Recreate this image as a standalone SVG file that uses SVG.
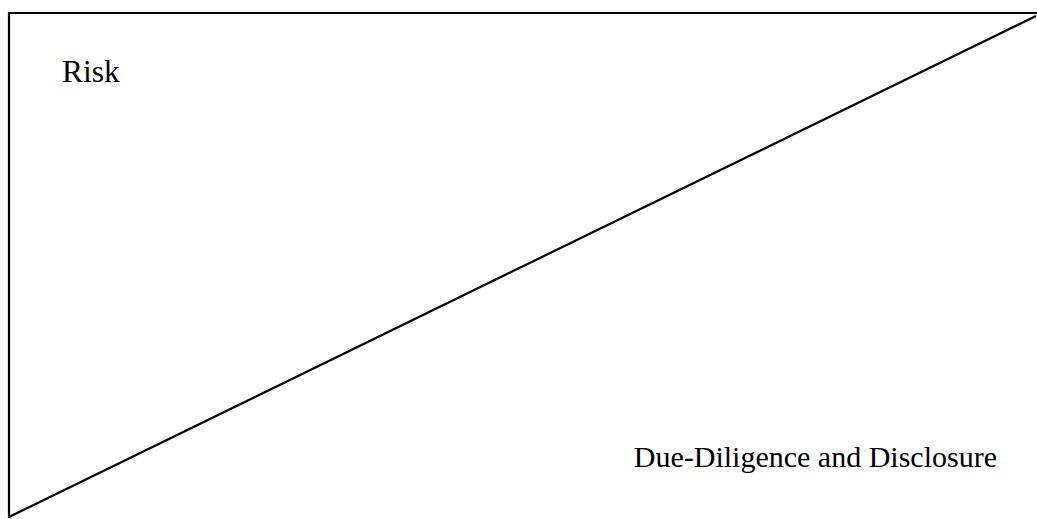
<svg xmlns="http://www.w3.org/2000/svg" width="1037" height="519" viewBox="0 0 1037 519">
<style>
.ln{stroke:#000;stroke-width:2.2;fill:none;stroke-linecap:square}
.t{font-family:"Liberation Serif","Times New Roman",serif;font-size:30px;fill:#000}
</style>
<rect width="1037" height="519" fill="#fff"/>
<g id="connectors">
<path class="ln" d="M1037,13 H9 V517"/>
<path class="ln" d="M9,517 L1036,16" style="stroke-linecap:butt"/>
</g>
<g id="risk"><text class="t" x="62" y="82" style="font-size:31.5px">Risk</text></g>
<g id="due"><text class="t" x="997" y="467" text-anchor="end">Due-Diligence and Disclosure</text></g>
</svg>
